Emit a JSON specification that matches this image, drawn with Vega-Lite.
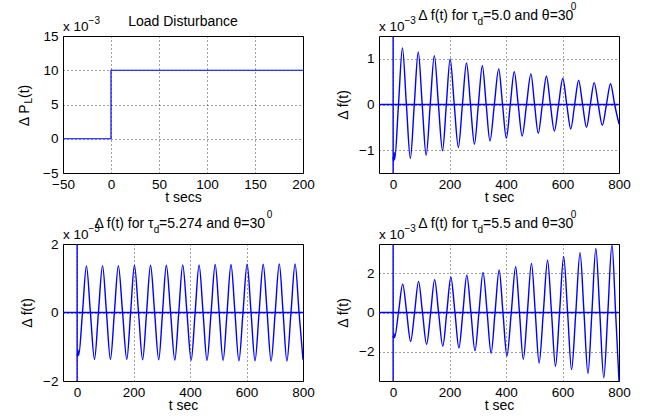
{
  "$schema": "https://vega.github.io/schema/vega-lite/v6.json",
  "background": "white",
  "padding": {"left": 17, "top": 1, "right": 0, "bottom": 0},
  "bounds": "flush",
  "columns": 2,
  "spacing": {"row": 71, "column": 76},
  "config": {
    "font": "Liberation Sans",
    "view": {"stroke": "black", "strokeWidth": 1},
    "axis": {
      "grid": true, "gridColor": "black", "gridDash": [1, 3], "gridOpacity": 0.75, "gridWidth": 1,
      "ticks": false, "domain": false,
      "labelFont": "Liberation Sans", "labelFontSize": 13.5, "labelColor": "black",
      "labelFlush": false, "labelOverlap": false, "labelPadding": 5,
      "titleFont": "Liberation Sans", "titleFontSize": 14, "titleFontWeight": "normal", "titleColor": "black"
    },
    "axisX": {"labelPadding": 4, "titlePadding": 0},
    "axisY": {"titlePadding": 8},
    "text": {"color": "black", "font": "Liberation Sans", "fontSize": 14}
  },
  "datasets": {
    "p1": [{"t": -50, "v": 0}, {"t": 0, "v": 10}, {"t": 200, "v": 10}],
    "zero": [{"t": -50, "v": 0}, {"t": 800, "v": 0}],
    "p2spike": [{"t": 0, "v": 1.5}, {"t": 0, "v": -1.5}],
    "p3spike": [{"t": 0, "v": 2}, {"t": 0, "v": -2}],
    "p4spike": [{"t": 0, "v": 3.5}, {"t": 0, "v": -3.5}],
    "p2": [
      {"t": 0, "v": -1.15}, {"t": 2, "v": -1.25}, {"t": 3.5, "v": -1.05}, {"t": 5.5, "v": -1.2},
      {"t": 19, "v": 0}, {"t": 33, "v": 1.24}, {"t": 47, "v": 0}, {"t": 61, "v": -1.18},
      {"t": 75, "v": 0}, {"t": 89, "v": 1.15}, {"t": 103, "v": 0}, {"t": 117, "v": -1.11},
      {"t": 131.5, "v": 0}, {"t": 146, "v": 1.07}, {"t": 160.5, "v": 0}, {"t": 175, "v": -1.01},
      {"t": 188.5, "v": 0}, {"t": 202, "v": 1.0}, {"t": 216.5, "v": 0}, {"t": 231, "v": -0.94},
      {"t": 245.5, "v": 0}, {"t": 260, "v": 0.91}, {"t": 274, "v": 0}, {"t": 288, "v": -0.87},
      {"t": 302, "v": 0}, {"t": 316, "v": 0.85}, {"t": 329.5, "v": 0}, {"t": 343, "v": -0.8},
      {"t": 358.5, "v": 0}, {"t": 374, "v": 0.78}, {"t": 387.5, "v": 0}, {"t": 401, "v": -0.74},
      {"t": 415, "v": 0}, {"t": 429, "v": 0.72}, {"t": 443, "v": 0}, {"t": 457, "v": -0.69},
      {"t": 472.5, "v": 0}, {"t": 488, "v": 0.67}, {"t": 501, "v": 0}, {"t": 514, "v": -0.63},
      {"t": 528.5, "v": 0}, {"t": 543, "v": 0.62}, {"t": 557, "v": 0}, {"t": 571, "v": -0.58},
      {"t": 586, "v": 0}, {"t": 601, "v": 0.57}, {"t": 615, "v": 0}, {"t": 629, "v": -0.535},
      {"t": 643, "v": 0}, {"t": 657, "v": 0.53}, {"t": 671, "v": 0}, {"t": 685, "v": -0.5},
      {"t": 698.5, "v": 0}, {"t": 712, "v": 0.48}, {"t": 726.5, "v": 0}, {"t": 741, "v": -0.455},
      {"t": 755.5, "v": 0}, {"t": 770, "v": 0.456}, {"t": 784.5, "v": 0}, {"t": 800, "v": -0.43}
    ],
    "p3": [
      {"t": 0, "v": -1.2}, {"t": 2, "v": -1.27}, {"t": 3.5, "v": -1.1}, {"t": 5.5, "v": -1.25},
      {"t": 19, "v": 0}, {"t": 33, "v": 1.36}, {"t": 47, "v": 0}, {"t": 61.5, "v": -1.37},
      {"t": 75.5, "v": 0}, {"t": 90, "v": 1.37}, {"t": 104, "v": 0}, {"t": 118, "v": -1.37},
      {"t": 132, "v": 0}, {"t": 146, "v": 1.37}, {"t": 161, "v": 0}, {"t": 176, "v": -1.37},
      {"t": 189.5, "v": 0}, {"t": 203, "v": 1.38}, {"t": 217.5, "v": 0}, {"t": 232, "v": -1.38},
      {"t": 246, "v": 0}, {"t": 260, "v": 1.38}, {"t": 274.5, "v": 0}, {"t": 289, "v": -1.38},
      {"t": 302.5, "v": 0}, {"t": 316, "v": 1.38}, {"t": 331, "v": 0}, {"t": 346, "v": -1.39},
      {"t": 360, "v": 0}, {"t": 374, "v": 1.39}, {"t": 389, "v": 0}, {"t": 404, "v": -1.39},
      {"t": 418, "v": 0}, {"t": 432, "v": 1.39}, {"t": 446, "v": 0}, {"t": 460, "v": -1.4},
      {"t": 474.5, "v": 0}, {"t": 489, "v": 1.4}, {"t": 503, "v": 0}, {"t": 517, "v": -1.4},
      {"t": 531, "v": 0}, {"t": 545, "v": 1.4}, {"t": 559, "v": 0}, {"t": 573, "v": -1.41},
      {"t": 587.5, "v": 0}, {"t": 602, "v": 1.41}, {"t": 616, "v": 0}, {"t": 630, "v": -1.41},
      {"t": 644.5, "v": 0}, {"t": 659, "v": 1.41}, {"t": 673, "v": 0}, {"t": 687, "v": -1.42},
      {"t": 701.5, "v": 0}, {"t": 716, "v": 1.42}, {"t": 729.5, "v": 0}, {"t": 743, "v": -1.42},
      {"t": 757.5, "v": 0}, {"t": 772, "v": 1.42}, {"t": 786, "v": 0}, {"t": 800, "v": -1.38}
    ],
    "p4": [
      {"t": 0, "v": -1.2}, {"t": 2, "v": -1.3}, {"t": 3.5, "v": -1.1}, {"t": 5, "v": -1.28},
      {"t": 19, "v": 0}, {"t": 34, "v": 1.45}, {"t": 48, "v": 0}, {"t": 62, "v": -1.48},
      {"t": 76, "v": 0}, {"t": 90, "v": 1.59}, {"t": 104, "v": 0}, {"t": 118.5, "v": -1.63},
      {"t": 133, "v": 0}, {"t": 147, "v": 1.68}, {"t": 161, "v": 0}, {"t": 176, "v": -1.72},
      {"t": 190, "v": 0}, {"t": 204.5, "v": 1.8}, {"t": 219, "v": 0}, {"t": 233, "v": -1.81},
      {"t": 247, "v": 0}, {"t": 261, "v": 1.9}, {"t": 275.5, "v": 0}, {"t": 290, "v": -1.95},
      {"t": 304, "v": 0}, {"t": 318.5, "v": 2.05}, {"t": 333, "v": 0}, {"t": 347, "v": -2.08},
      {"t": 361, "v": 0}, {"t": 375.5, "v": 2.17}, {"t": 389, "v": 0}, {"t": 403, "v": -2.22},
      {"t": 418.5, "v": 0}, {"t": 434, "v": 2.34}, {"t": 447.5, "v": 0}, {"t": 461, "v": -2.39},
      {"t": 475.5, "v": 0}, {"t": 490, "v": 2.51}, {"t": 503.5, "v": 0}, {"t": 517, "v": -2.58},
      {"t": 532, "v": 0}, {"t": 547, "v": 2.67}, {"t": 561, "v": 0}, {"t": 575, "v": -2.75},
      {"t": 589.5, "v": 0}, {"t": 604, "v": 2.86}, {"t": 618, "v": 0}, {"t": 632, "v": -2.92},
      {"t": 647, "v": 0}, {"t": 662, "v": 3.05}, {"t": 676, "v": 0}, {"t": 690, "v": -3.12},
      {"t": 704, "v": 0}, {"t": 718, "v": 3.27}, {"t": 732, "v": 0}, {"t": 746, "v": -3.34},
      {"t": 760.5, "v": 0}, {"t": 775, "v": 3.46}, {"t": 788, "v": 0}, {"t": 800, "v": -3.5}
    ]
  },
  "concat": [
    {
      "width": 240, "height": 137,
      "layer": [
        {"data": {"name": "p1"}, "mark": {"type": "line", "interpolate": "step-after", "color": "#0000ff", "strokeWidth": 1.2},
         "encoding": {
           "x": {"field": "t", "type": "quantitative", "scale": {"domain": [-50, 200], "nice": false, "zero": false}, "axis": {"values": [-50, 0, 50, 100, 150, 200], "title": "t secs", "labelOverlap": false}},
           "y": {"field": "v", "type": "quantitative", "scale": {"domain": [-5, 15], "nice": false, "zero": false}, "axis": {"values": [-5, 0, 5, 10, 15], "format": "d", "title": null, "labelOverlap": false}}
         }},
        {"data": {"values": [{"s": "x 10"}]}, "mark": {"type": "text", "align": "left", "baseline": "alphabetic", "dy": -5.5, "fontSize": 13.5},
         "encoding": {"x": {"datum": -50, "type": "quantitative"}, "y": {"datum": 15, "type": "quantitative", "axis": {"values": [-5, 0, 5, 10, 15], "format": "d", "title": null, "labelOverlap": false}}, "text": {"field": "s"}}},
        {"data": {"values": [{"s": "−3"}]}, "mark": {"type": "text", "align": "left", "baseline": "alphabetic", "dy": -12, "fontSize": 10},
         "encoding": {"x": {"datum": -23.4, "type": "quantitative"}, "y": {"datum": 15, "type": "quantitative", "axis": {"values": [-5, 0, 5, 10, 15], "format": "d", "title": null, "labelOverlap": false}}, "text": {"field": "s"}}},
        {"data": {"values": [{"s": "Load Disturbance"}]}, "mark": {"type": "text", "align": "center", "baseline": "alphabetic", "dy": -10.5},
         "encoding": {"x": {"datum": 75, "type": "quantitative"}, "y": {"datum": 15, "type": "quantitative", "axis": {"values": [-5, 0, 5, 10, 15], "format": "d", "title": null, "labelOverlap": false}}, "text": {"field": "s"}}},
        {"data": {"values": [{"s": "Δ P"}]}, "mark": {"type": "text", "align": "left", "baseline": "alphabetic", "angle": 270},
         "encoding": {"x": {"datum": -85.9, "type": "quantitative"}, "y": {"datum": 1.83, "type": "quantitative", "axis": {"values": [-5, 0, 5, 10, 15], "format": "d", "title": null, "labelOverlap": false}}, "text": {"field": "s"}}},
        {"data": {"values": [{"s": "L"}]}, "mark": {"type": "text", "align": "left", "baseline": "alphabetic", "angle": 270, "fontSize": 10},
         "encoding": {"x": {"datum": -82.6, "type": "quantitative"}, "y": {"datum": 5.13, "type": "quantitative", "axis": {"values": [-5, 0, 5, 10, 15], "format": "d", "title": null, "labelOverlap": false}}, "text": {"field": "s"}}},
        {"data": {"values": [{"s": "(t)"}]}, "mark": {"type": "text", "align": "left", "baseline": "alphabetic", "angle": 270},
         "encoding": {"x": {"datum": -85.9, "type": "quantitative"}, "y": {"datum": 5.95, "type": "quantitative", "axis": {"values": [-5, 0, 5, 10, 15], "format": "d", "title": null, "labelOverlap": false}}, "text": {"field": "s"}}}
      ]
    },
    {
      "width": 240, "height": 137,
      "layer": [
        {"data": {"name": "zero"}, "mark": {"type": "line", "color": "#0000ff", "strokeWidth": 1.4},
         "encoding": {
           "x": {"field": "t", "type": "quantitative", "scale": {"domain": [-50, 800], "nice": false, "zero": false}, "axis": {"values": [0, 200, 400, 600, 800], "title": "t sec", "labelOverlap": false}},
           "y": {"field": "v", "type": "quantitative", "scale": {"domain": [-1.5, 1.5], "nice": false, "zero": false}, "axis": {"values": [-1, 0, 1], "title": "Δ f(t)", "labelOverlap": false}}
         }},
        {"data": {"name": "p2spike"}, "mark": {"type": "line", "color": "#0000ff", "strokeWidth": 1.4},
         "encoding": {"x": {"field": "t", "type": "quantitative"}, "y": {"field": "v", "type": "quantitative"}}},
        {"data": {"name": "p2"}, "mark": {"type": "line", "interpolate": "monotone", "color": "#0000ff", "strokeWidth": 1.4},
         "encoding": {"x": {"field": "t", "type": "quantitative"}, "y": {"field": "v", "type": "quantitative"}}},
        {"data": {"values": [{"s": "x 10"}]}, "mark": {"type": "text", "align": "left", "baseline": "alphabetic", "dy": -5.5, "fontSize": 13.5},
         "encoding": {"x": {"datum": -50, "type": "quantitative"}, "y": {"datum": 1.5, "type": "quantitative"}, "text": {"field": "s"}}},
        {"data": {"values": [{"s": "−3"}]}, "mark": {"type": "text", "align": "left", "baseline": "alphabetic", "dy": -12, "fontSize": 10},
         "encoding": {"x": {"datum": 39.9, "type": "quantitative"}, "y": {"datum": 1.5, "type": "quantitative"}, "text": {"field": "s"}}},
        {"data": {"values": [{"s": "Δ f(t) for τ"}]}, "mark": {"type": "text", "align": "right", "baseline": "alphabetic", "dy": -16},
         "encoding": {"x": {"datum": 299.2, "type": "quantitative"}, "y": {"datum": 1.5, "type": "quantitative"}, "text": {"field": "s"}}},
        {"data": {"values": [{"s": "d"}]}, "mark": {"type": "text", "align": "left", "baseline": "alphabetic", "dy": -11, "fontSize": 10},
         "encoding": {"x": {"datum": 299.2, "type": "quantitative"}, "y": {"datum": 1.5, "type": "quantitative"}, "text": {"field": "s"}}},
        {"data": {"values": [{"s": "=5.0 and θ=30"}]}, "mark": {"type": "text", "align": "left", "baseline": "alphabetic", "dy": -16},
         "encoding": {"x": {"datum": 318.6, "type": "quantitative"}, "y": {"datum": 1.5, "type": "quantitative"}, "text": {"field": "s"}}},
        {"data": {"values": [{"s": "0"}]}, "mark": {"type": "text", "align": "left", "baseline": "alphabetic", "dy": -26, "fontSize": 10},
         "encoding": {"x": {"datum": 629, "type": "quantitative"}, "y": {"datum": 1.5, "type": "quantitative"}, "text": {"field": "s"}}}
      ]
    },
    {
      "width": 240, "height": 137,
      "layer": [
        {"data": {"name": "zero"}, "mark": {"type": "line", "color": "#0000ff", "strokeWidth": 1.4},
         "encoding": {
           "x": {"field": "t", "type": "quantitative", "scale": {"domain": [-50, 800], "nice": false, "zero": false}, "axis": {"values": [0, 200, 400, 600, 800], "title": "t sec", "labelOverlap": false}},
           "y": {"field": "v", "type": "quantitative", "scale": {"domain": [-2, 2], "nice": false, "zero": false}, "axis": {"values": [-2, -1, 0, 1, 2], "title": "Δ f(t)", "labelOverlap": false}}
         }},
        {"data": {"name": "p3spike"}, "mark": {"type": "line", "color": "#0000ff", "strokeWidth": 1.4},
         "encoding": {"x": {"field": "t", "type": "quantitative"}, "y": {"field": "v", "type": "quantitative"}}},
        {"data": {"name": "p3"}, "mark": {"type": "line", "interpolate": "monotone", "color": "#0000ff", "strokeWidth": 1.4},
         "encoding": {"x": {"field": "t", "type": "quantitative"}, "y": {"field": "v", "type": "quantitative"}}},
        {"data": {"values": [{"s": "x 10"}]}, "mark": {"type": "text", "align": "left", "baseline": "alphabetic", "dy": -5, "fontSize": 13.5},
         "encoding": {"x": {"datum": -50, "type": "quantitative"}, "y": {"datum": 2, "type": "quantitative"}, "text": {"field": "s"}}},
        {"data": {"values": [{"s": "−3"}]}, "mark": {"type": "text", "align": "left", "baseline": "alphabetic", "dy": -12, "fontSize": 10},
         "encoding": {"x": {"datum": 40, "type": "quantitative"}, "y": {"datum": 2, "type": "quantitative"}, "text": {"field": "s"}}},
        {"data": {"values": [{"s": "Δ f(t) for τ"}]}, "mark": {"type": "text", "align": "right", "baseline": "alphabetic", "dy": -16},
         "encoding": {"x": {"datum": 271, "type": "quantitative"}, "y": {"datum": 2, "type": "quantitative"}, "text": {"field": "s"}}},
        {"data": {"values": [{"s": "d"}]}, "mark": {"type": "text", "align": "left", "baseline": "alphabetic", "dy": -11, "fontSize": 10},
         "encoding": {"x": {"datum": 271, "type": "quantitative"}, "y": {"datum": 2, "type": "quantitative"}, "text": {"field": "s"}}},
        {"data": {"values": [{"s": "=5.274 and θ=30"}]}, "mark": {"type": "text", "align": "left", "baseline": "alphabetic", "dy": -16},
         "encoding": {"x": {"datum": 290.4, "type": "quantitative"}, "y": {"datum": 2, "type": "quantitative"}, "text": {"field": "s"}}},
        {"data": {"values": [{"s": "0"}]}, "mark": {"type": "text", "align": "left", "baseline": "alphabetic", "dy": -26, "fontSize": 10},
         "encoding": {"x": {"datum": 672, "type": "quantitative"}, "y": {"datum": 2, "type": "quantitative"}, "text": {"field": "s"}}}
      ]
    },
    {
      "width": 240, "height": 137,
      "layer": [
        {"data": {"name": "zero"}, "mark": {"type": "line", "color": "#0000ff", "strokeWidth": 1.4},
         "encoding": {
           "x": {"field": "t", "type": "quantitative", "scale": {"domain": [-50, 800], "nice": false, "zero": false}, "axis": {"values": [0, 200, 400, 600, 800], "title": "t sec", "labelOverlap": false}},
           "y": {"field": "v", "type": "quantitative", "scale": {"domain": [-3.5, 3.5], "nice": false, "zero": false}, "axis": {"values": [-2, 0, 2], "title": "Δ f(t)", "labelOverlap": false}}
         }},
        {"data": {"name": "p4spike"}, "mark": {"type": "line", "color": "#0000ff", "strokeWidth": 1.4},
         "encoding": {"x": {"field": "t", "type": "quantitative"}, "y": {"field": "v", "type": "quantitative"}}},
        {"data": {"name": "p4"}, "mark": {"type": "line", "interpolate": "monotone", "color": "#0000ff", "strokeWidth": 1.4},
         "encoding": {"x": {"field": "t", "type": "quantitative"}, "y": {"field": "v", "type": "quantitative"}}},
        {"data": {"values": [{"s": "x 10"}]}, "mark": {"type": "text", "align": "left", "baseline": "alphabetic", "dy": -5.5, "fontSize": 13.5},
         "encoding": {"x": {"datum": -50, "type": "quantitative"}, "y": {"datum": 3.5, "type": "quantitative"}, "text": {"field": "s"}}},
        {"data": {"values": [{"s": "−3"}]}, "mark": {"type": "text", "align": "left", "baseline": "alphabetic", "dy": -12, "fontSize": 10},
         "encoding": {"x": {"datum": 39.9, "type": "quantitative"}, "y": {"datum": 3.5, "type": "quantitative"}, "text": {"field": "s"}}},
        {"data": {"values": [{"s": "Δ f(t) for τ"}]}, "mark": {"type": "text", "align": "right", "baseline": "alphabetic", "dy": -16},
         "encoding": {"x": {"datum": 299.2, "type": "quantitative"}, "y": {"datum": 3.5, "type": "quantitative"}, "text": {"field": "s"}}},
        {"data": {"values": [{"s": "d"}]}, "mark": {"type": "text", "align": "left", "baseline": "alphabetic", "dy": -11, "fontSize": 10},
         "encoding": {"x": {"datum": 299.2, "type": "quantitative"}, "y": {"datum": 3.5, "type": "quantitative"}, "text": {"field": "s"}}},
        {"data": {"values": [{"s": "=5.5 and θ=30"}]}, "mark": {"type": "text", "align": "left", "baseline": "alphabetic", "dy": -16},
         "encoding": {"x": {"datum": 318.6, "type": "quantitative"}, "y": {"datum": 3.5, "type": "quantitative"}, "text": {"field": "s"}}},
        {"data": {"values": [{"s": "0"}]}, "mark": {"type": "text", "align": "left", "baseline": "alphabetic", "dy": -26, "fontSize": 10},
         "encoding": {"x": {"datum": 629, "type": "quantitative"}, "y": {"datum": 3.5, "type": "quantitative"}, "text": {"field": "s"}}}
      ]
    }
  ]
}
